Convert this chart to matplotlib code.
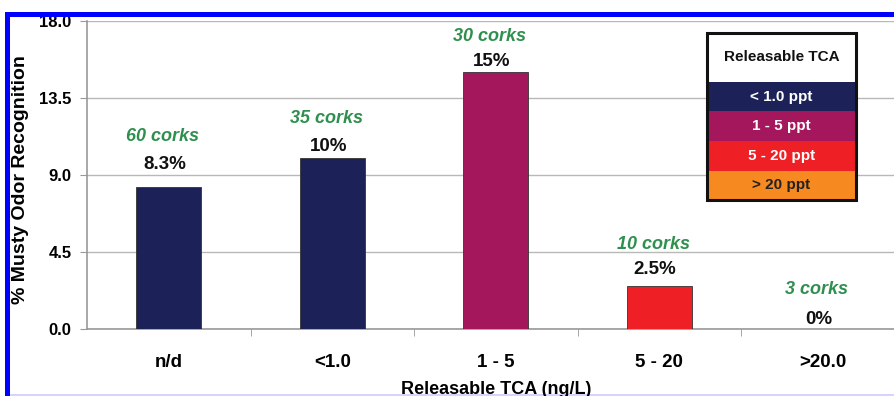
import matplotlib.pyplot as plt
from matplotlib.patches import Rectangle

plt.rcParams['font.family'] = ['Liberation Sans', 'DejaVu Sans']
plt.rcParams['font.weight'] = 'bold'

# TCA classes and musty odor recognition results
categories = ['n/d', '<1.0', '1 - 5', '5 - 20', '>20.0']
recognition = [8.3, 10, 15, 2.5, 0]
value_labels = ['8.3%', '10%', '15%', '2.5%', '0%']
cork_counts = [60, 35, 30, 10, 3]
bar_class = [0, 0, 1, 2, 3]

legend_title = 'Releasable TCA'
legend_labels = ['< 1.0 ppt', '1 - 5 ppt', '5 - 20 ppt', '> 20 ppt']
legend_colors = ['#1c2157', '#a5175c', '#ee2026', '#f6891f']
legend_text_colors = ['white', 'white', 'white', '#222222']

yticks = [0.0, 4.5, 9.0, 13.5, 18.0]

# label offsets above each bar (pixels)
value_offset = [22, 11, 11, 17, 9]
cork_offset = [50, 39, 36, 42, 39]

fig = plt.figure(figsize=(8.94, 3.96), dpi=100)
ax = fig.add_axes([87 / 894, 67 / 396, 817.5 / 894, 308 / 396])

x = list(range(len(categories)))
colors = [legend_colors[c] for c in bar_class]
ax.bar(x, recognition, width=0.4, color=colors, edgecolor='#333333', linewidth=0.6, zorder=3)

for i, v in enumerate(recognition):
    ax.annotate(value_labels[i], (x[i], v), xytext=(-4, value_offset[i]),
                textcoords='offset pixels', ha='center', va='center',
                fontsize=13.5, fontweight='bold', color='#111111')
    ax.annotate(f'{cork_counts[i]} corks', (x[i], v), xytext=(-6, cork_offset[i]),
                textcoords='offset pixels', ha='center', va='center',
                fontsize=13, fontweight='bold', fontstyle='italic', color='#2f8f4e')

ax.set_xlim(-0.5, len(categories) - 0.5)
ax.set_ylim(0, 18)
ax.set_yticks(yticks)
ax.set_yticklabels([f'{t:.1f}' for t in yticks], fontsize=12, fontweight='bold')
ax.set_xticks(x)
ax.set_xticklabels(categories, fontsize=13.5, fontweight='bold')
ax.set_xticks([i + 0.5 for i in x[:-1]], minor=True)
ax.tick_params(axis='x', which='major', length=0, pad=18)
ax.tick_params(axis='x', which='minor', length=5, color='#999999')
ax.tick_params(axis='y', length=5, color='#999999', pad=6)

ax.grid(axis='y', color='#b8b8b8', linewidth=1, zorder=0)
for s in ['top', 'right']:
    ax.spines[s].set_visible(False)
for s in ['left', 'bottom']:
    ax.spines[s].set_color('#999999')
    ax.spines[s].set_linewidth(1.2)

ax.set_ylabel('% Musty Odor Recognition', fontsize=14, fontweight='bold')
ax.yaxis.set_label_coords(-0.0705, 0.484)
fig.text(496 / 894, 1 - 389 / 396, 'Releasable TCA (ng/L)', ha='center', va='center',
         fontsize=13, fontweight='bold')

# legend box
lax = fig.add_axes([707 / 894, 196 / 396, 149 / 894, 167 / 396])
lax.set_xlim(0, 1)
lax.set_ylim(0, 167)
lax.axis('off')
row_h = 29.5
lax.add_patch(Rectangle((0, 4 * row_h), 1, 167 - 4 * row_h, facecolor='white', edgecolor='none'))
lax.text(0.5, (167 + 4 * row_h) / 2, legend_title, ha='center', va='center',
         fontsize=11, fontweight='bold', color='#111111')
for k, (lab, col, tc) in enumerate(zip(legend_labels, legend_colors, legend_text_colors)):
    y0 = (3 - k) * row_h
    lax.add_patch(Rectangle((0, y0), 1, row_h, facecolor=col, edgecolor='none'))
    lax.text(0.5, y0 + row_h / 2, lab, ha='center', va='center',
             fontsize=11, fontweight='bold', color=tc)
lax.add_patch(Rectangle((0, 0), 1, 167, facecolor='none', edgecolor='#111111',
                        linewidth=2.2, clip_on=False))

# blue frame along the top and left
fig.add_artist(Rectangle((5 / 894, 0), 5 / 894, 384 / 396, transform=fig.transFigure,
                         facecolor='#0000ff', edgecolor='none'))
fig.add_artist(Rectangle((5 / 894, 379 / 396), 889 / 894, 5 / 396, transform=fig.transFigure,
                         facecolor='#0000ff', edgecolor='none'))
fig.add_artist(Rectangle((10 / 894, 0), 884 / 894, 2 / 396, transform=fig.transFigure,
                         facecolor='#d4d4ff', edgecolor='none'))

fig.savefig('out.png', dpi=100)
